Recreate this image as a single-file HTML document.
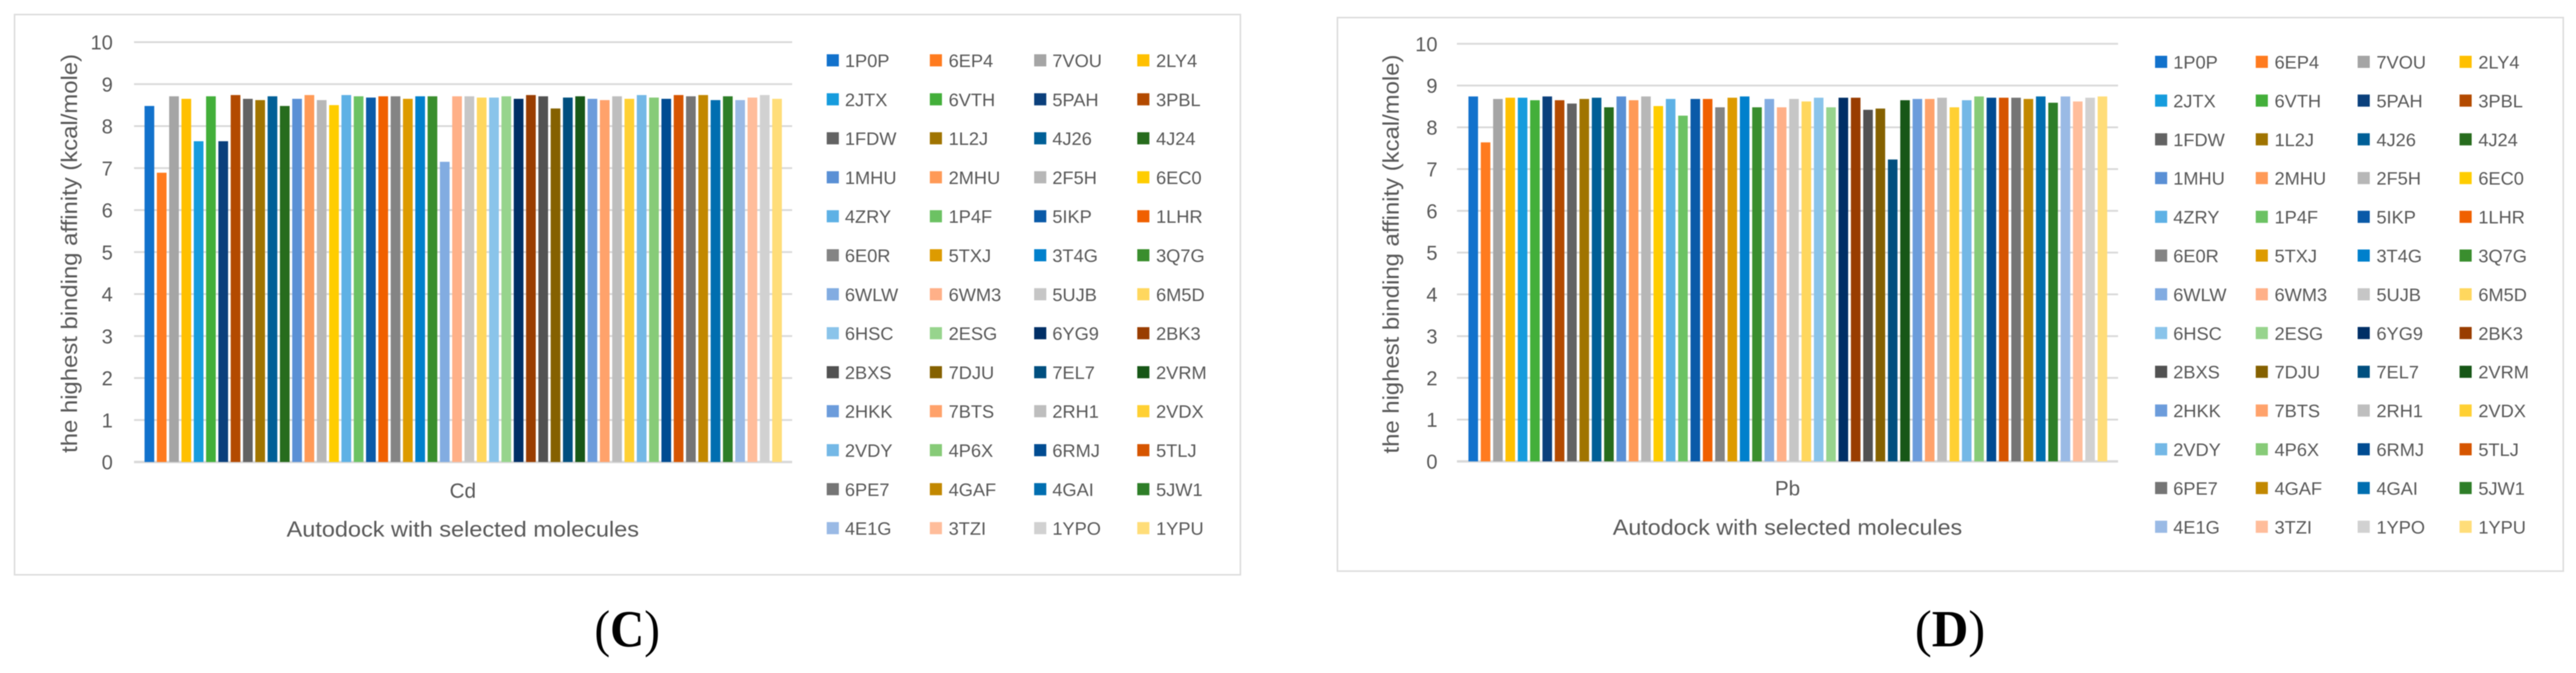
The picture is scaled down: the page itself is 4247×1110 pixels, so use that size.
<!DOCTYPE html>
<html lang="en">
<head>
<meta charset="utf-8">
<title>Autodock binding affinity charts</title>
<style>
  html, body { margin: 0; padding: 0; background: #ffffff; }
  svg { display: block; filter: blur(0.7px); }
  text { font-family: "Liberation Sans", sans-serif; fill: #595959; }
  .caption { font-family: "Liberation Serif", serif; fill: #000000; font-size: 86px; }
</style>
</head>
<body>
<svg id="figure" xmlns="http://www.w3.org/2000/svg" width="4247" height="1110" viewBox="0 0 4247 1110">
  <rect x="0" y="0" width="4247" height="1110" fill="#ffffff"/>
  <text class="caption" x="1034" y="1066" text-anchor="middle" textLength="108" lengthAdjust="spacingAndGlyphs">(<tspan font-weight="bold">C</tspan>)</text>
  <text class="caption" x="3215" y="1066" text-anchor="middle" textLength="116" lengthAdjust="spacingAndGlyphs">(<tspan font-weight="bold">D</tspan>)</text>
</svg>
<script>
const molecules = ["1P0P","6EP4","7VOU","2LY4","2JTX","6VTH","5PAH","3PBL","1FDW","1L2J","4J26","4J24","1MHU","2MHU","2F5H","6EC0","4ZRY","1P4F","5IKP","1LHR","6E0R","5TXJ","3T4G","3Q7G","6WLW","6WM3","5UJB","6M5D","6HSC","2ESG","6YG9","2BK3","2BXS","7DJU","7EL7","2VRM","2HKK","7BTS","2RH1","2VDX","2VDY","4P6X","6RMJ","5TLJ","6PE7","4GAF","4GAI","5JW1","4E1G","3TZI","1YPO","1YPU"];
const valuesCd = [8.48,6.89,8.71,8.65,7.64,8.71,7.64,8.74,8.65,8.62,8.71,8.48,8.65,8.74,8.62,8.5,8.74,8.71,8.68,8.71,8.71,8.65,8.71,8.71,7.15,8.71,8.71,8.68,8.68,8.71,8.65,8.74,8.71,8.42,8.68,8.71,8.65,8.62,8.71,8.65,8.74,8.68,8.65,8.74,8.71,8.74,8.62,8.71,8.62,8.68,8.74,8.65];
const valuesPb = [8.74,7.64,8.68,8.71,8.71,8.65,8.74,8.65,8.57,8.68,8.71,8.48,8.74,8.65,8.74,8.51,8.68,8.28,8.68,8.68,8.48,8.71,8.74,8.48,8.68,8.48,8.68,8.62,8.71,8.48,8.71,8.71,8.42,8.45,7.23,8.65,8.68,8.68,8.71,8.48,8.65,8.74,8.71,8.71,8.71,8.68,8.74,8.59,8.74,8.62,8.71,8.74];
const yTicks = ["0","1","2","3","4","5","6","7","8","9","10"];
const palette = ["#1272CC","#FF7B1F","#A5A5A5","#FFC000","#169CDD","#43AF3A","#0B407C","#B34A00","#636363","#A07400","#005F97","#276C1D","#5A90D5","#FF9A57","#B7B7B7","#FFCD00","#5EB1E5","#6CC263","#0A5AA8","#F06000","#848484","#DD9B00","#0080CC","#3A8E2E","#82ACE1","#FFB088","#C6C6C6","#FFD75E","#8AC4EA","#97D48D","#002F66","#993D00","#525252","#856100","#004F7F","#175717","#6C9CDB","#FFA26B","#BEBEBE","#FFD033","#74B8E6","#87CB78","#004C92","#D65500","#757575","#C28800","#006EB0","#2E7E28","#9ABAE5","#FFBD9B","#D1D1D1","#FFDD79"];

const SVG_NS = "http://www.w3.org/2000/svg";
const root = document.getElementById("figure");

function make(tag, parent, attrs, content) {
  const el = document.createElementNS(SVG_NS, tag);
  for (const key in attrs) el.setAttribute(key, attrs[key]);
  if (content !== undefined) el.textContent = content;
  parent.appendChild(el);
  return el;
}

function drawChart(cfg) {
  const group = make("g", root, {});
  
  

  const frame = make("rect", group, { x: cfg.frame[0], y: cfg.frame[1], width: cfg.frame[2] - cfg.frame[0], height: cfg.frame[3] - cfg.frame[1], fill: "#ffffff", stroke: "#dcdcdc", "stroke-width": 2.5 });
  
  

  const yScale = function (v) { return cfg.baseY - (v / 10) * (cfg.baseY - cfg.topY); };
  const xScale = function (i) { return cfg.barLeft + i * cfg.barStep; };

  yTicks.forEach(function (label) {
    const value = Number(label);
    const grid = make("line", group, { x1: cfg.plotLeft, x2: cfg.plotRight, y1: yScale(value), y2: yScale(value), stroke: "#d9d9d9", "stroke-width": value === 0 ? 4 : 3 });
    
    

    const tick = make("text", group, { x: cfg.tickRight, y: yScale(value) + 12, "text-anchor": "end", "font-size": 33 }, label);
    
    
  });

  cfg.values.forEach(function (value, i) {
    const bar = make("rect", group, { x: xScale(i), y: yScale(value), width: cfg.barWidth, height: yScale(0) - yScale(value), fill: palette[i] });
    
    
  });

  const yTitle = make("text", group, { transform: "translate(" + cfg.yTitleX + " " + cfg.yTitleY + ") rotate(-90)", "text-anchor": "middle", "font-size": 37, textLength: 658, lengthAdjust: "spacingAndGlyphs" }, "the highest binding affinity (kcal/mole)");
  
  

  const category = make("text", group, { x: cfg.catX, y: cfg.catY, "text-anchor": "middle", "font-size": 34 }, cfg.category);
  
  

  const xTitle = make("text", group, { x: cfg.catX, y: cfg.xTitleY, "text-anchor": "middle", "font-size": 36, textLength: cfg.xTitleWidth, lengthAdjust: "spacingAndGlyphs" }, "Autodock with selected molecules");
  
  

  molecules.forEach(function (label, i) {
    const col = i % 4;
    const row = Math.floor(i / 4);
    const cy = cfg.legendY + row * cfg.legendStep;
    const swatch = make("rect", group, { x: cfg.swatchX[col], y: cy - 10, width: 20, height: 20, fill: palette[i] });
    
    

    const entry = make("text", group, { x: cfg.labelX[col], y: cy + 11, "font-size": 30 }, label);
    
    
  });
}

drawChart({
  name: "cd", category: "Cd", values: valuesCd,
  frame: [24, 24, 2045, 948],
  plotLeft: 221, plotRight: 1306, topY: 69.5, baseY: 762,
  barLeft: 238.3, barStep: 20.29, barWidth: 16,
  tickRight: 186, yTitleX: 127, yTitleY: 418,
  catX: 763, catY: 821, xTitleY: 885, xTitleWidth: 581,
  legendY: 99.5, legendStep: 64.3,
  swatchX: [1363, 1533, 1705, 1875],
  labelX: [1393, 1564, 1735, 1906]
});

drawChart({
  name: "pb", category: "Pb", values: valuesPb,
  frame: [2205, 29, 4226, 942],
  plotLeft: 2402, plotRight: 3492, topY: 72.3, baseY: 761,
  barLeft: 2421, barStep: 20.34, barWidth: 15.8,
  tickRight: 2370, yTitleX: 2306, yTitleY: 419,
  catX: 2947, catY: 817, xTitleY: 882, xTitleWidth: 576,
  legendY: 102, legendStep: 63.9,
  swatchX: [3553, 3719, 3887, 4055],
  labelX: [3583, 3750, 3918, 4086]
});
</script>
</body>
</html>
